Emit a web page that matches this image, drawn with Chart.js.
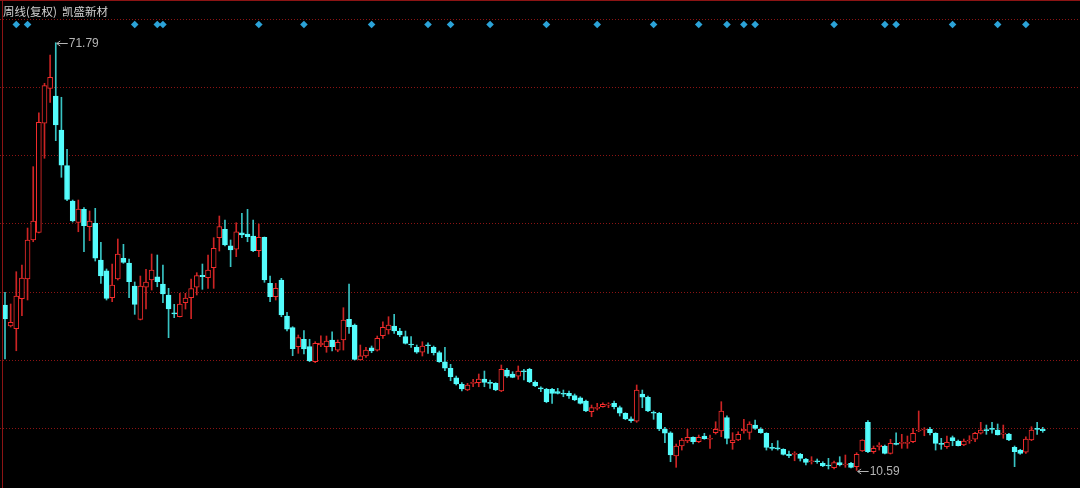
<!DOCTYPE html>
<html>
<head>
<meta charset="utf-8">
<script src="https://cdn.jsdelivr.net/npm/chart.js@4.4.1/dist/chart.umd.min.js"></script>
<style>
  html, body { margin: 0; padding: 0; background: #000; }
</style>
</head>
<body>
<canvas id="kline" width="1080" height="488"></canvas>
<script>
// weekly OHLC, 凯盛新材 (adjusted)
const OPEN = [
  34.25, 31.25, 30.86, 35.16, 37.98, 43.56, 44.63, 60.26, 65.26, 64.16,
  59.30, 54.19, 49.14, 46.06, 47.95, 45.46, 45.95, 40.69, 39.16, 35.30,
  37.98, 40.94, 40.26, 36.97, 32.21, 36.79, 37.83, 38.30, 37.26, 35.69,
  33.15, 32.58, 34.58, 35.30, 36.79, 38.50, 38.16, 39.59, 43.89, 45.09,
  42.74, 42.23, 44.60, 44.41, 44.13, 42.02, 43.94, 37.36, 35.44, 37.83,
  32.68, 31.01, 28.29, 29.35, 28.29, 26.14, 28.53, 28.29, 29.25, 27.81,
  29.25, 32.21, 31.39, 26.38, 26.96, 28.14, 27.81, 29.86, 30.68, 31.25,
  30.53, 29.72, 28.67, 28.20, 27.49, 28.53, 28.20, 27.43, 26.14, 25.20,
  23.85, 22.91, 22.09, 23.05, 23.14, 23.67, 23.19, 23.05, 21.95, 24.95,
  24.38, 24.09, 24.85, 25.05, 23.19, 22.42, 22.19, 22.19, 21.85, 21.62,
  21.62, 21.28, 20.99, 20.52, 18.99, 19.47, 19.70, 19.94, 20.19, 19.56,
  18.76, 17.98, 17.65, 21.52, 21.05, 18.90, 18.76, 16.51, 15.98, 12.65,
  14.08, 14.79, 15.32, 14.69, 15.51, 15.04, 15.98, 16.22, 18.13, 14.55,
  14.94, 16.27, 16.04, 17.08, 16.51, 15.90, 13.89, 13.83, 13.61, 12.89,
  12.89, 12.89, 12.22, 11.83, 11.97, 11.60, 11.36, 10.97, 11.69, 11.36,
  11.60, 11.12, 13.36, 17.47, 13.26, 13.98, 14.08, 13.03, 14.46, 14.46,
  14.46, 14.69, 16.22, 16.37, 16.47, 15.90, 14.46, 13.98, 15.27, 14.79,
  14.22, 14.79, 15.04, 15.90, 16.37, 16.61, 16.37, 15.79, 15.79, 13.89,
  13.50, 13.18, 14.94, 16.61, 16.47
];
const HIGH = [
  36.07, 34.40, 39.02, 39.98, 45.27, 54.05, 61.77, 65.98, 70.03, 71.79,
  63.98, 56.54, 49.28, 49.28, 48.18, 47.71, 48.09, 43.23, 39.41, 40.12,
  43.70, 42.94, 40.84, 37.55, 38.40, 39.36, 41.55, 41.41, 39.98, 36.64,
  34.35, 35.93, 35.93, 37.98, 38.88, 40.12, 41.41, 43.89, 46.99, 46.42,
  43.56, 46.03, 47.38, 47.95, 46.42, 45.85, 43.99, 38.40, 37.36, 38.07,
  33.21, 31.15, 29.96, 30.58, 29.35, 29.00, 29.86, 29.82, 30.43, 29.25,
  33.87, 37.26, 31.54, 28.53, 28.20, 28.39, 29.82, 31.86, 32.58, 32.92,
  30.92, 30.53, 29.72, 28.53, 29.00, 28.86, 28.39, 27.67, 28.20, 25.77,
  24.09, 23.14, 23.05, 23.62, 24.38, 24.81, 23.52, 23.14, 25.67, 25.20,
  24.71, 25.53, 25.05, 25.20, 23.42, 22.56, 22.33, 22.33, 22.33, 22.09,
  21.95, 21.52, 21.13, 20.66, 19.94, 20.19, 20.27, 20.27, 20.52, 19.80,
  18.84, 18.27, 22.81, 22.09, 21.23, 19.09, 18.90, 16.75, 16.12, 14.36,
  15.18, 16.47, 15.41, 15.65, 15.90, 15.65, 17.55, 20.42, 18.41, 15.98,
  16.12, 17.90, 17.55, 17.80, 16.70, 15.98, 14.46, 14.84, 13.69, 13.36,
  13.26, 13.03, 12.32, 12.55, 12.22, 11.83, 12.32, 11.93, 12.55, 12.79,
  11.74, 13.12, 14.98, 17.70, 14.08, 14.55, 14.22, 15.04, 15.98, 15.75,
  15.51, 16.61, 19.09, 16.70, 16.75, 15.98, 15.18, 15.51, 15.51, 14.94,
  15.08, 15.55, 16.04, 17.47, 17.08, 17.47, 17.23, 17.08, 15.90, 14.08,
  13.61, 15.41, 16.84, 17.47, 16.75
];
const LOW = [
  26.53, 31.11, 27.71, 32.72, 34.97, 43.31, 44.56, 55.25, 63.26, 57.77,
  52.53, 49.18, 46.13, 44.74, 41.88, 43.46, 40.55, 37.36, 34.97, 34.73,
  37.83, 40.22, 35.30, 32.92, 32.11, 33.68, 36.40, 36.87, 34.58, 29.58,
  32.44, 32.54, 33.68, 32.29, 35.69, 36.50, 36.64, 36.64, 41.98, 42.70,
  39.74, 41.17, 43.89, 43.31, 41.88, 41.17, 37.50, 34.73, 34.97, 32.58,
  30.53, 27.00, 27.34, 27.24, 26.14, 26.00, 28.29, 27.49, 27.67, 27.57,
  27.81, 30.20, 26.38, 26.38, 26.77, 27.43, 27.67, 29.49, 30.10, 30.20,
  29.72, 28.67, 28.20, 27.34, 26.96, 27.34, 27.10, 26.05, 24.85, 23.42,
  22.81, 21.95, 21.99, 22.56, 22.56, 22.56, 22.33, 21.99, 21.85, 23.91,
  23.85, 23.62, 23.52, 23.14, 22.56, 21.85, 20.27, 20.19, 21.52, 21.13,
  20.90, 20.56, 20.09, 18.99, 18.27, 19.23, 19.62, 19.56, 19.37, 18.37,
  17.84, 17.47, 17.47, 19.56, 18.99, 17.90, 16.27, 14.55, 11.83, 11.03,
  13.50, 14.55, 14.36, 14.55, 15.04, 13.75, 15.79, 15.41, 14.36, 13.61,
  14.84, 15.90, 15.04, 16.47, 15.90, 13.50, 13.50, 13.50, 12.79, 12.40,
  11.97, 11.93, 11.36, 11.50, 11.60, 11.12, 10.79, 10.79, 11.22, 11.03,
  10.93, 10.59, 13.30, 13.12, 13.03, 13.50, 12.93, 12.93, 14.22, 13.75,
  13.75, 14.55, 16.12, 15.55, 15.65, 13.50, 13.61, 13.75, 14.12, 14.08,
  14.12, 14.46, 14.69, 15.79, 15.75, 15.90, 15.65, 15.18, 14.84, 11.12,
  12.89, 13.03, 14.84, 15.75, 16.04
];
const CLOSE = [
  32.25, 31.78, 35.54, 38.12, 43.56, 46.27, 60.40, 65.64, 66.84, 60.01,
  54.25, 49.38, 46.27, 47.99, 45.60, 46.27, 40.94, 38.40, 35.21, 37.12,
  41.55, 40.36, 37.59, 34.35, 36.97, 37.55, 39.26, 37.59, 35.83, 33.68,
  32.97, 34.40, 35.26, 36.59, 38.45, 38.30, 39.26, 42.37, 45.46, 42.84,
  42.12, 44.74, 44.27, 44.03, 42.02, 43.94, 37.83, 35.44, 36.64, 32.82,
  30.78, 28.00, 29.58, 27.96, 26.24, 28.77, 28.82, 29.10, 28.29, 28.92,
  32.11, 31.15, 26.48, 27.00, 27.81, 27.67, 29.49, 31.06, 31.39, 30.53,
  29.96, 28.77, 28.53, 27.49, 28.39, 28.43, 27.43, 26.14, 25.20, 23.99,
  22.95, 22.23, 22.81, 23.14, 23.67, 23.19, 23.05, 22.09, 25.05, 24.09,
  23.91, 24.81, 24.71, 23.28, 22.66, 22.23, 20.42, 21.62, 21.62, 21.48,
  21.23, 20.66, 20.19, 19.09, 19.56, 19.62, 20.04, 20.04, 19.70, 18.76,
  17.94, 17.70, 22.09, 21.05, 19.09, 18.76, 16.51, 15.90, 12.79, 14.08,
  14.94, 15.32, 14.69, 15.32, 15.12, 15.18, 16.47, 19.09, 15.18, 14.94,
  15.75, 16.47, 17.23, 16.61, 15.98, 13.89, 13.75, 13.65, 12.89, 12.69,
  13.03, 12.32, 11.74, 11.97, 11.83, 11.22, 11.22, 11.69, 11.36, 11.50,
  11.03, 12.89, 14.94, 13.26, 13.75, 14.22, 13.03, 14.46, 14.32, 14.55,
  14.55, 15.90, 16.37, 16.51, 15.98, 14.46, 14.32, 14.61, 14.84, 14.12,
  14.79, 14.94, 15.90, 16.37, 16.27, 16.47, 15.65, 15.90, 14.94, 13.26,
  13.03, 15.08, 16.37, 16.47, 16.27
];
// weeks carrying an event marker (diamonds on top)
const EVENT_WEEKS = [2, 4, 23, 27, 28, 45, 53, 65, 75, 79, 86, 96, 105, 115, 123, 128, 131, 133, 147, 156, 158, 168, 176, 181];
// price levels of the dotted grid
const GRID_LEVELS = [16.65, 26.38, 36.11, 45.85, 55.58, 65.31, 75.04];
const TITLE = '周线(复权)';
const STOCK_NAME = '凯盛新材';

const Y_MIN = 8.07, Y_MAX = 77.90;
const X_MIN = -0.887, X_MAX = 190.6;
const MARKER_LEVEL = 74.4;

const CYAN = '#54fcfc';
const CYAN_WICK = '#38c4c4';
const RED = '#f22c2c';
const RED_WICK = '#cc2424';
const GRID_RED = '#8c1414';

const weeks = OPEN.map((_, i) => i);
const up = weeks.map(i => CLOSE[i] >= OPEN[i]);

const frame = {
  id: 'frame',
  beforeDraw(chart) {
    const { ctx, width, height } = chart;
    ctx.save();
    ctx.fillStyle = '#000';
    ctx.fillRect(0, 0, width, height);
    ctx.restore();
  },
  afterDraw(chart) {
    const { ctx, width, height, scales: { x, y } } = chart;
    ctx.save();
    ctx.strokeStyle = GRID_RED;
    ctx.lineWidth = 1;
    ctx.beginPath();
    ctx.moveTo(2.5, 0);
    ctx.lineTo(2.5, height);
    ctx.moveTo(0, 0.5);
    ctx.lineTo(width, 0.5);
    ctx.stroke();

    ctx.fillStyle = '#d2d2d2';
    ctx.font = '11.5px "Noto Sans CJK SC"';
    ctx.textBaseline = 'middle';
    ctx.fillText(TITLE, 3, 11.5);
    ctx.fillText(STOCK_NAME, 62, 11.5);

    const tag = (px, py, text) => {
      ctx.strokeStyle = '#b4b4b4';
      ctx.fillStyle = '#b4b4b4';
      ctx.beginPath();
      ctx.moveTo(px + 1, py);
      ctx.lineTo(px + 12, py);
      ctx.moveTo(px + 1, py);
      ctx.lineTo(px + 4.5, py - 2.5);
      ctx.moveTo(px + 1, py);
      ctx.lineTo(px + 4.5, py + 2.5);
      ctx.stroke();
      ctx.font = '12px "Liberation Sans", Arial, sans-serif';
      ctx.textBaseline = 'middle';
      ctx.fillText(text, px + 13, py);
    };
    const hi = HIGH.indexOf(Math.max(...HIGH));
    const lo = LOW.indexOf(Math.min(...LOW));
    tag(x.getPixelForValue(hi), Math.round(y.getPixelForValue(HIGH[hi])) + 0.5, HIGH[hi].toFixed(2));
    tag(x.getPixelForValue(lo), Math.round(y.getPixelForValue(LOW[lo])) + 1.5, LOW[lo].toFixed(2));
    ctx.restore();
  }
};

new Chart(document.getElementById('kline').getContext('2d'), {
  type: 'bar',
  data: {
    datasets: [
      {
        label: 'events',
        type: 'scatter',
        data: EVENT_WEEKS.map(w => ({ x: w, y: MARKER_LEVEL })),
        pointStyle: 'rectRot',
        pointRadius: 3.8,
        backgroundColor: '#2ba3d8',
        borderWidth: 0,
        order: 0
      },
      {
        label: 'body',
        data: weeks.map(i => ({ x: i, y: [OPEN[i], CLOSE[i]] })),
        backgroundColor: weeks.map(i => up[i] ? '#000' : CYAN),
        borderColor: weeks.map(i => up[i] ? RED : CYAN),
        borderWidth: 1,
        borderSkipped: false,
        barThickness: 5,
        minBarLength: 1,
        grouped: false,
        order: 1
      },
      {
        label: 'wick',
        data: weeks.map(i => ({ x: i, y: [LOW[i], HIGH[i]] })),
        backgroundColor: weeks.map(i => up[i] ? RED_WICK : CYAN_WICK),
        borderWidth: 0,
        barThickness: 1,
        grouped: false,
        order: 2
      }
    ]
  },
  options: {
    responsive: false,
    animation: false,
    layout: { padding: 0, autoPadding: false },
    plugins: {
      legend: { display: false },
      tooltip: { enabled: false }
    },
    scales: {
      x: {
        type: 'linear',
        min: X_MIN,
        max: X_MAX,
        offset: false,
        display: false
      },
      y: {
        min: Y_MIN,
        max: Y_MAX,
        position: 'right',
        afterFit: s => { s.width = 0; },
        afterBuildTicks: s => { s.ticks = GRID_LEVELS.map(v => ({ value: v })); },
        ticks: { display: false },
        border: { display: false, dash: [1, 2] },
        grid: { color: GRID_RED, drawTicks: false, lineWidth: 1 }
      }
    }
  },
  plugins: [frame]
});
</script>
</body>
</html>
